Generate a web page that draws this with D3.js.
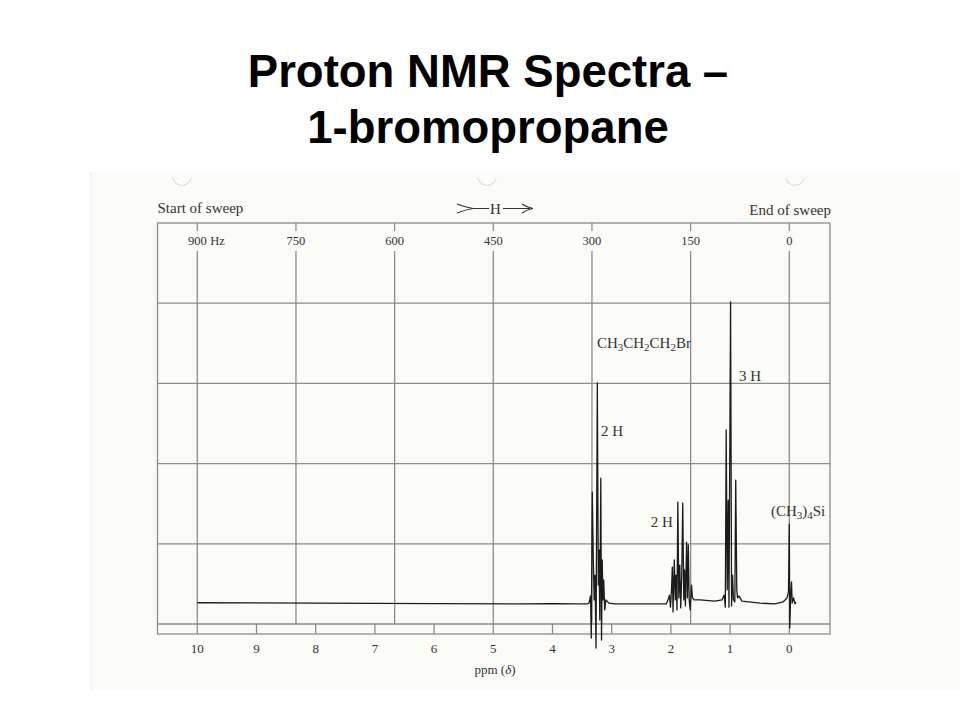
<!DOCTYPE html>
<html>
<head>
<meta charset="utf-8">
<script src="https://cdn.jsdelivr.net/npm/d3@7"></script>
<style>
  html, body { margin: 0; padding: 0; background: #ffffff; }
  svg { display: block; }
</style>
</head>
<body>
<svg id="chart" width="960" height="720"></svg>
<script>
// ---------------- DATA ----------------
const titleLines = ["Proton NMR Spectra \u2013", "1-bromopropane"];
const spectrometerMHz = 90;
const ppmTicks = [10, 9, 8, 7, 6, 5, 4, 3, 2, 1, 0];
const hzTicks = [900, 750, 600, 450, 300, 150, 0];
const gridRows = [0, 20, 40, 60, 80, 100];

// Spectrum trace: chemical shift (ppm) and pen height (chart-paper units, 0-100)
const tracePpm = [
  10.0, 8.0, 6.0, 4.5, 4.0, 3.6, 3.42,
  3.384, 3.358, 3.345, 3.328, 3.311, 3.296, 3.282, 3.265, 3.243, 3.226, 3.215, 3.201,
  3.184, 3.172, 3.160, 3.148, 3.135, 3.118, 3.098, 3.047, 2.944, 2.353, 2.08,
  2.05, 2.024, 2.007, 1.99, 1.976, 1.964, 1.943, 1.926, 1.914, 1.897, 1.883, 1.866,
  1.85, 1.834, 1.817, 1.800, 1.782, 1.769, 1.755, 1.735, 1.721, 1.706, 1.691, 1.674,
  1.652, 1.635, 1.61, 1.51, 1.255, 1.137, 1.103,
  1.095, 1.081, 1.066, 1.049, 1.032, 1.019, 0.992, 0.975, 0.959, 0.943, 0.92, 0.905,
  0.887, 0.875, 0.85, 0.80, 0.495, 0.24, 0.106,
  0.039, 0.014, 0.0, -0.008, -0.022, -0.037, -0.049, -0.071, -0.096, -0.113
];
const traceIntensity = [
  5.3, 5.2, 5.1, 5.0, 5.1, 5.0, 5.0,
  5.2, 7.0, -3.5, 32.9, 16.0, 6.0, 12.2, -6.0, 60.1, 9.7, 18.5, 1.0,
  36.4, -4.0, 16.0, 6.0, 11.0, 3.5, 6.0, 5.2, 5.0, 5.0, 5.0,
  6.0, 7.2, 4.2, 8.5, 14.2, 3.0, 16.0, 6.0, 12.2, 3.5, 30.4, 6.5,
  14.7, 4.0, 12.0, 30.2, 6.0, 13.5, 4.5, 20.4, 6.5, 19.7, 6.0, 3.5,
  9.7, 6.5, 6.0, 6.0, 5.7, 6.0, 7.2,
  6.5, 4.2, 48.4, 8.5, 30.9, 4.2, 80.3, 4.5, 12.2, 6.0, 5.5, 35.9,
  8.5, 6.5, 7.0, 5.7, 5.2, 5.0, 5.5,
  6.5, 8.0, 24.9, -1.0, 7.0, 10.5, 5.2, 6.5, 5.0, 5.5
];

// Annotations (anchor in ppm / chart units)
const annPpm = [3.25, 3.18, 0.85, 2.34, 0.31];
const annUnits = [68.8, 46.9, 60.6, 24.2, 26.9];
const annParts = [
  [["CH",0],["3",1],["CH",0],["2",1],["CH",0],["2",1],["Br",0]],
  [["2 H",0]],
  [["3 H",0]],
  [["2 H",0]],
  [["(CH",0],["3",1],[")",0],["4",1],["Si",0]]
];

// ---------------- DRAWING ----------------
const svg = d3.select("#chart");
const serif = "'Liberation Serif', 'DejaVu Serif', serif";

const fLeft = 157.5, fRight = 830, fTop = 223, stripTop = 624, fBottom = 634;
const x = d3.scaleLinear().domain([10, 0]).range([197.3, 789.3]);
const y = d3.scaleLinear().domain([0, 100]).range([stripTop, fTop]);
const xHz = h => x(h / spectrometerMHz);

// scanned page tint
svg.append("rect").attr("x", 90).attr("y", 172).attr("width", 870).attr("height", 518)
  .attr("fill", "#fbfbf8");
svg.append("line").attr("x1", 91).attr("x2", 91).attr("y1", 172).attr("y2", 690)
  .attr("stroke", "#eeeeee").attr("stroke-width", 1);
// faint hole-punch arcs
[182, 487, 795].forEach(cx => {
  svg.append("path")
    .attr("d", d3.arc()({innerRadius: 9, outerRadius: 9.8, startAngle: Math.PI * 0.55, endAngle: Math.PI * 1.45}))
    .attr("transform", `translate(${cx},176)`)
    .attr("fill", "#d8d8d8");
});

// title
svg.selectAll("text.title").data(titleLines).enter().append("text")
  .attr("class", "title")
  .attr("x", 488).attr("y", (d, i) => 87 + i * 56)
  .attr("text-anchor", "middle")
  .attr("font-family", "'Liberation Sans', Arial, sans-serif")
  .attr("font-weight", "bold").attr("font-size", 45.5)
  .attr("fill", "#000").text(d => d);

const gridColor = "#8c8c8c";
const g = svg.append("g");

// frame
g.append("rect").attr("x", fLeft).attr("y", fTop).attr("width", fRight - fLeft).attr("height", fBottom - fTop)
  .attr("fill", "none").attr("stroke", gridColor).attr("stroke-width", 1.3);
// horizontal grid
g.selectAll("line.row").data(gridRows.slice(1, -1)).enter().append("line")
  .attr("x1", fLeft).attr("x2", fRight).attr("y1", d => y(d)).attr("y2", d => y(d))
  .attr("stroke", gridColor).attr("stroke-width", 1.3);
g.append("line").attr("x1", fLeft).attr("x2", fRight).attr("y1", stripTop).attr("y2", stripTop)
  .attr("stroke", gridColor).attr("stroke-width", 1.3);

// Hz vertical grid (broken around the labels)
hzTicks.forEach(h => {
  const xx = xHz(h);
  g.append("line").attr("x1", xx).attr("x2", xx).attr("y1", fTop).attr("y2", fTop + 8)
    .attr("stroke", gridColor).attr("stroke-width", 1.3);
  g.append("line").attr("x1", xx).attr("x2", xx).attr("y1", 251).attr("y2", stripTop)
    .attr("stroke", gridColor).attr("stroke-width", 1.3);
  g.append("text").attr("x", xx).attr("y", 245).attr("text-anchor", "middle")
    .attr("font-family", serif).attr("font-size", 12.5).attr("fill", "#333").text(h);
  if (h === 900) {
    g.append("text").attr("x", xx + 13).attr("y", 245)
      .attr("font-family", serif).attr("font-size", 12.5).attr("fill", "#333").text("Hz");
  }
});

// ppm ticks in the bottom strip
g.selectAll("line.ppm").data(ppmTicks).enter().append("line")
  .attr("x1", d => x(d)).attr("x2", d => x(d)).attr("y1", stripTop).attr("y2", fBottom)
  .attr("stroke", gridColor).attr("stroke-width", 1.3);
g.selectAll("text.ppm").data(ppmTicks).enter().append("text")
  .attr("x", d => x(d)).attr("y", 653).attr("text-anchor", "middle")
  .attr("font-family", serif).attr("font-size", 13).attr("fill", "#333").text(d => d);

// axis title
const at = g.append("text").attr("x", 495).attr("y", 674).attr("text-anchor", "middle")
  .attr("font-family", serif).attr("font-size", 13).attr("fill", "#333");
at.append("tspan").text("ppm (");
at.append("tspan").attr("font-style", "italic").text("\u03b4");
at.append("tspan").text(")");

// header texts
g.append("text").attr("x", fLeft).attr("y", 213).attr("font-family", serif).attr("font-size", 15)
  .attr("fill", "#333").text("Start of sweep");
g.append("text").attr("x", fRight + 1).attr("y", 215).attr("text-anchor", "end").attr("font-family", serif)
  .attr("font-size", 15).attr("fill", "#333").text("End of sweep");
// >—H—> sweep arrow
const hy = 208.5;
g.append("path").attr("d", `M457,${hy - 4.5} Q466,${hy - 1} 473,${hy} Q466,${hy + 1} 457,${hy + 4.5} M473,${hy} L489,${hy}`)
  .attr("fill", "none").attr("stroke", "#333").attr("stroke-width", 1.2);
g.append("text").attr("x", 495.5).attr("y", hy + 5).attr("text-anchor", "middle").attr("font-family", serif)
  .attr("font-size", 15).attr("fill", "#333").text("H");
g.append("path").attr("d", `M503,${hy} L530,${hy} M522,${hy - 4.5} Q527,${hy - 1} 533,${hy} Q527,${hy + 1} 522,${hy + 4.5}`)
  .attr("fill", "none").attr("stroke", "#333").attr("stroke-width", 1.2);

// spectrum trace
const pts = tracePpm.map((p, i) => [p, traceIntensity[i]]);
const line = d3.line().x(d => x(d[0])).y(d => y(d[1]));
g.append("path").datum(pts).attr("d", line)
  .attr("fill", "none").attr("stroke", "#1c1c1c").attr("stroke-width", 1.3)
  .attr("stroke-linejoin", "round");

// annotations
annParts.forEach((parts, i) => {
  const t = g.append("text").attr("x", x(annPpm[i])).attr("y", y(annUnits[i]))
    .attr("font-family", serif).attr("font-size", 15).attr("fill", "#333");
  let shifted = false;
  parts.forEach(([s, sub]) => {
    const ts = t.append("tspan").text(s);
    if (sub && !shifted) { ts.attr("dy", 3).attr("font-size", 11); shifted = true; }
    else if (sub && shifted) { ts.attr("font-size", 11); }
    else if (!sub && shifted) { ts.attr("dy", -3); shifted = false; }
  });
});
</script>
</body>
</html>
